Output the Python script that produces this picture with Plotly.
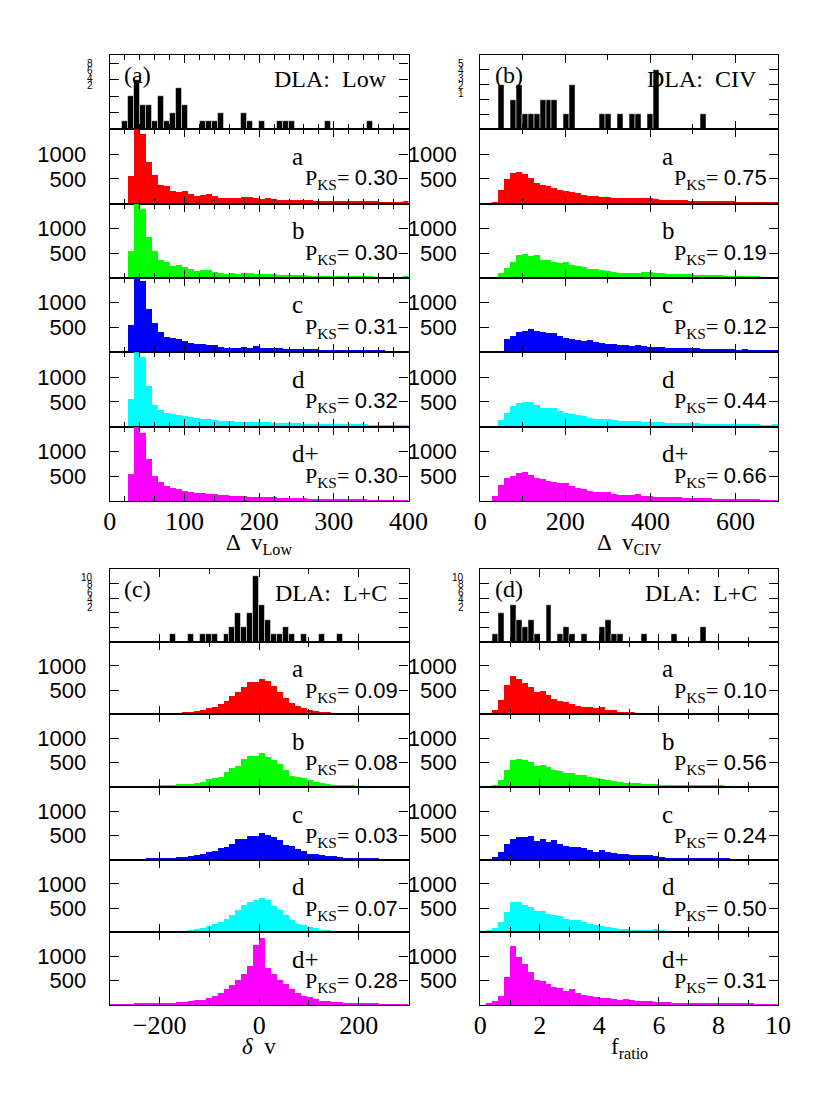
import plotly.graph_objects as go

W, H = 830, 1117
SERIF = 'Liberation Serif'
SANS = 'Liberation Sans'

# ---- observed DLA counts (black histograms) ----
low_data = [0, 0, 1, 4, 6, 3, 3, 1, 4, 1, 2, 5, 3, 0, 0, 1, 1, 1, 2, 0,
            0, 0, 2, 1, 0, 1, 0, 0, 1, 1, 1, 0, 0, 0, 0, 0, 1, 0, 0, 0,
            0, 0, 0, 1, 0, 0, 0, 0, 0, 0]
civ_data = [0, 0, 0, 3, 0, 2, 3, 1, 1, 1, 2, 2, 2, 0, 1, 3, 0, 0, 0, 0,
            1, 1, 0, 1, 0, 1, 1, 0, 1, 4, 0, 0, 0, 0, 0, 0, 0, 1, 0, 0,
            0, 0, 0, 0, 0, 0, 0, 0, 0, 0]
dv_data = [0, 0, 0, 0, 0, 0, 0, 0, 0, 0, 1, 0, 0, 1, 0, 1, 1, 1, 0, 1,
           2, 4, 2, 4, 9, 5, 3, 1, 1, 2, 1, 0, 1, 0, 0, 1, 0, 0, 1, 0,
           0, 0, 0, 0, 0, 0, 0, 0, 0, 0]
fr_data = [0, 0, 1, 4, 0, 5, 3, 2, 3, 1, 0, 5, 0, 1, 2, 1, 0, 1, 0, 0,
           2, 3, 1, 1, 0, 0, 0, 1, 0, 0, 0, 0, 1, 0, 0, 0, 0, 2, 0, 0,
           0, 0, 0, 0, 0, 0, 0, 0, 0, 0]

# ---- model counts, models a, b, c, d, d+ ----
low_a = [0, 0, 0, 560, 1700, 1400, 830, 570, 380, 355, 255, 235, 255, 190, 155, 170, 180, 140, 110, 110,
         100, 115, 120, 120, 100, 90, 110, 90, 75, 75, 70, 65, 60, 60, 55, 55, 50, 50, 50, 45,
         45, 45, 40, 40, 38, 35, 35, 35, 35, 45]
low_b = [0, 0, 0, 560, 1700, 1400, 830, 560, 370, 320, 250, 265, 220, 185, 150, 170, 165, 135, 110, 95,
         100, 95, 100, 105, 90, 85, 80, 85, 70, 75, 70, 65, 60, 55, 55, 50, 50, 45, 45, 45,
         40, 40, 40, 38, 35, 35, 35, 35, 35, 45]
low_c = [0, 0, 0, 555, 1700, 1440, 880, 590, 420, 315, 295, 265, 225, 190, 165, 170, 145, 145, 110, 95,
         90, 90, 110, 95, 120, 90, 85, 85, 80, 75, 70, 65, 70, 60, 60, 55, 55, 50, 50, 45,
         45, 45, 40, 40, 38, 38, 35, 35, 35, 35]
low_d = [0, 0, 0, 545, 1700, 1400, 810, 430, 320, 275, 240, 220, 200, 185, 165, 155, 140, 125, 115, 110,
         100, 95, 90, 85, 80, 80, 80, 75, 70, 65, 60, 60, 55, 55, 50, 50, 45, 45, 45, 40,
         40, 40, 38, 35, 35, 35, 32, 32, 30, 35]
low_dp = [0, 0, 0, 550, 1700, 1380, 860, 515, 390, 310, 275, 240, 205, 185, 170, 160, 150, 140, 130, 120,
          110, 105, 100, 95, 90, 90, 85, 80, 75, 70, 65, 65, 60, 55, 55, 50, 50, 45, 45, 45,
          40, 40, 38, 35, 35, 35, 33, 32, 32, 35]

civ_a = [0, 0, 15, 275, 500, 615, 635, 585, 520, 415, 380, 355, 315, 260, 240, 220, 205, 160, 155, 145,
         135, 125, 115, 115, 100, 110, 115, 100, 110, 80, 75, 70, 65, 65, 60, 55, 55, 50, 50, 45,
         45, 40, 40, 35, 35, 30, 30, 25, 25, 20]
civ_b = [0, 0, 0, 100, 205, 335, 475, 490, 445, 465, 375, 370, 335, 300, 320, 265, 240, 220, 190, 185,
         170, 150, 130, 115, 115, 100, 115, 130, 135, 110, 100, 90, 85, 85, 80, 80, 75, 70, 70, 65,
         60, 55, 50, 45, 45, 40, 40, 35, 35, 35]
civ_c = [0, 0, 0, 20, 260, 335, 405, 440, 465, 440, 405, 385, 385, 335, 295, 265, 245, 225, 245, 210,
         180, 165, 175, 145, 145, 130, 155, 125, 110, 105, 100, 95, 90, 90, 85, 80, 80, 75, 75, 70,
         65, 60, 60, 55, 75, 50, 45, 45, 40, 40]
civ_d = [0, 0, 0, 130, 270, 410, 475, 485, 500, 430, 375, 375, 360, 305, 275, 240, 220, 205, 175, 150,
         145, 140, 120, 115, 105, 105, 115, 90, 85, 85, 80, 75, 75, 70, 65, 60, 60, 55, 55, 50,
         50, 50, 45, 45, 45, 40, 40, 35, 35, 40]
civ_dp = [0, 0, 115, 330, 480, 515, 565, 585, 530, 480, 445, 415, 390, 365, 360, 310, 260, 240, 205, 195,
          190, 180, 150, 130, 130, 130, 140, 105, 100, 95, 90, 90, 85, 80, 75, 75, 70, 65, 60, 55,
          55, 50, 50, 45, 45, 40, 40, 35, 35, 30]

dv_a = [5, 5, 5, 5, 8, 8, 10, 10, 12, 14, 21, 35, 49, 63, 84, 105, 133, 168, 224, 273,
        378, 470, 575, 666, 680, 729, 701, 589, 470, 350, 245, 175, 133, 105, 84, 63, 49, 35, 28, 25,
        21, 28, 18, 14, 12, 10, 8, 6, 5, 5]
dv_b = [3, 3, 3, 5, 5, 8, 10, 12, 15, 21, 35, 49, 49, 56, 70, 105, 153, 188, 209, 300,
        384, 419, 572, 642, 642, 698, 614, 544, 474, 349, 230, 195, 188, 140, 105, 70, 49, 35, 28, 21,
        14, 12, 10, 8, 6, 5, 3, 3, 3, 3]
dv_c = [5, 5, 8, 10, 10, 12, 14, 25, 28, 42, 42, 56, 56, 69, 104, 111, 160, 181, 250, 264,
        333, 417, 417, 486, 486, 542, 507, 472, 403, 299, 285, 215, 181, 125, 125, 90, 69, 69, 56, 42,
        28, 42, 21, 21, 14, 12, 10, 8, 5, 5]
dv_d = [3, 3, 3, 5, 5, 6, 8, 10, 12, 14, 21, 28, 41, 55, 76, 104, 131, 173, 221, 290,
        359, 463, 567, 636, 684, 726, 670, 553, 463, 359, 256, 187, 152, 118, 90, 62, 48, 35, 28, 21,
        14, 12, 10, 8, 6, 5, 4, 3, 3, 3]
dv_dp = [5, 8, 10, 12, 14, 14, 17, 20, 21, 28, 35, 49, 56, 70, 91, 105, 140, 188, 244, 328,
         405, 509, 628, 802, 1235, 1374, 747, 642, 509, 419, 314, 244, 188, 153, 119, 84, 70, 56, 49, 42,
         35, 28, 21, 17, 14, 12, 10, 8, 5, 5]

fr_a = [0, 42, 105, 294, 610, 806, 729, 659, 561, 470, 491, 400, 315, 280, 259, 224, 189, 168, 168, 133,
        168, 98, 98, 63, 63, 49, 42, 35, 35, 28, 28, 21, 21, 21, 21, 18, 18, 18, 5, 5,
        5, 5, 3, 3, 3, 3, 3, 3, 3, 3]
fr_b = [0, 5, 35, 140, 335, 544, 572, 544, 502, 419, 453, 405, 349, 314, 279, 279, 244, 244, 195, 174,
        153, 140, 126, 105, 84, 84, 70, 56, 56, 56, 35, 35, 28, 28, 28, 21, 21, 21, 14, 14,
        14, 12, 10, 8, 8, 6, 5, 5, 3, 3]
fr_c = [0, 10, 56, 160, 319, 417, 472, 458, 486, 382, 424, 368, 403, 333, 285, 264, 264, 250, 194, 160,
        194, 160, 139, 125, 111, 104, 104, 90, 90, 69, 56, 42, 42, 35, 28, 21, 21, 21, 21, 21,
        21, 14, 12, 10, 8, 6, 5, 3, 0, 0]
fr_d = [5, 48, 104, 221, 428, 636, 636, 581, 532, 442, 442, 394, 359, 339, 290, 270, 270, 221, 187, 152,
        138, 118, 104, 83, 69, 62, 62, 48, 48, 76, 48, 41, 41, 35, 35, 28, 28, 21, 21, 21,
        14, 14, 12, 10, 8, 6, 5, 5, 3, 3]
fr_dp = [0, 35, 70, 188, 579, 1221, 977, 837, 684, 509, 488, 419, 370, 335, 279, 314, 244, 209, 174, 160,
         140, 140, 126, 105, 119, 105, 84, 70, 70, 49, 56, 49, 35, 35, 28, 28, 21, 28, 21, 42,
         35, 21, 21, 14, 14, 14, 10, 10, 8, 8]

pks_low = ['0.30', '0.30', '0.31', '0.32', '0.30']
pks_civ = ['0.75', '0.19', '0.12', '0.44', '0.66']
pks_dv = ['0.09', '0.08', '0.03', '0.07', '0.28']
pks_fr = ['0.10', '0.56', '0.24', '0.50', '0.31']

MODELS = ['a', 'b', 'c', 'd', 'd+']
COLORS = ['#ff0000', '#00ff00', '#0000ff', '#00ffff', '#ff00ff']

QUADRANTS = [
    dict(tag='(a)', dla='DLA:  Low', title='Δ  v<sub>Low</sub>', start=0, bw=8, data=low_data,
         models=[low_a, low_b, low_c, low_d, low_dp], pks=pks_low, xrange=[0, 400], dtick=100, minor=20,
         ymax=9, ticks=[2, 4, 6, 8], col=0, group=0),
    dict(tag='(b)', dla='DLA:  CIV', title='Δ  v<sub>CIV</sub>', start=0, bw=14, data=civ_data,
         models=[civ_a, civ_b, civ_c, civ_d, civ_dp], pks=pks_civ, xrange=[0, 700], dtick=200, minor=100,
         ymax=5, ticks=[1, 2, 3, 4, 5], col=1, group=0),
    dict(tag='(c)', dla='DLA:  L+C', title='<i>δ</i>  v', start=-300, bw=12, data=dv_data,
         models=[dv_a, dv_b, dv_c, dv_d, dv_dp], pks=pks_dv, xrange=[-300, 300], dtick=200, minor=100,
         ymax=10, ticks=[2, 4, 6, 8, 10], col=0, group=1),
    dict(tag='(d)', dla='DLA:  L+C', title='f<sub>ratio</sub>', start=0, bw=0.2, data=fr_data,
         models=[fr_a, fr_b, fr_c, fr_d, fr_dp], pks=pks_fr, xrange=[0, 10], dtick=2, minor=1,
         ymax=10, ticks=[2, 4, 6, 8, 10], col=1, group=1),
]

COLS = [(107, 415), (489, 796)]      # pixel extents of the two panel columns
GROUPS = [(55, 501), (569, 1005)]    # pixel extents of the two panel groups


def py(p):
    return 1 - p / H


fig = go.Figure()
layout = {}
notes = []

for q, quad in enumerate(QUADRANTS):
    x0, x1 = COLS[quad['col']]
    g0, g1 = GROUPS[quad['group']]
    step = (g1 - g0) / 6
    centers = [quad['start'] + quad['bw'] * (i + 0.5) for i in range(len(quad['data']))]
    for r in range(6):
        n = q * 6 + r + 1
        top, bottom = g0 + r * step, g0 + (r + 1) * step
        suffix = '' if n == 1 else str(n)
        if r == 0:
            values, color, line = quad['data'], 'black', dict(width=0.5, color='white')
        else:
            values, color, line = quad['models'][r - 1], COLORS[r - 1], dict(width=0)
        fig.add_trace(go.Bar(x=centers, y=values, width=quad['bw'], marker=dict(color=color, line=line),
                             xaxis='x' + suffix, yaxis='y' + suffix, showlegend=False))
        layout['xaxis' + suffix] = dict(
            domain=[x0 / W, x1 / W], range=quad['xrange'], anchor='y' + suffix,
            showline=True, linecolor='black', linewidth=1.3, mirror='allticks',
            ticks='inside', ticklen=8, tickwidth=1.2, tickcolor='black', tick0=0, dtick=quad['dtick'],
            minor=dict(dtick=quad['minor'], tick0=0, ticks='inside', ticklen=5, tickwidth=1, tickcolor='black'),
            showgrid=False, zeroline=False, showticklabels=(r == 5), ticklabelstandoff=-3,
            tickfont=dict(family=SERIF, size=26, color='black'))
        ydict = dict(domain=[py(bottom), py(top)], anchor='x' + suffix,
                     showline=True, linecolor='black', linewidth=1.3, mirror='allticks',
                     ticks='inside', ticklen=9, tickwidth=1.2, tickcolor='black',
                     showgrid=False, zeroline=False)
        if r == 0:
            ydict.update(range=[0, quad['ymax']], tickvals=quad['ticks'], showticklabels=False)
        else:
            ydict.update(range=[0, 1500], tickvals=[500, 1000], ticklabelstandoff=18,
                         tickfont=dict(family=SANS, size=22, color='black'))
        layout['yaxis' + suffix] = ydict

        if r == 0:
            notes.append(dict(text=quad['tag'], x=(x0 + 13) / W, y=py(top + 20), xanchor='left',
                              yanchor='middle', font=dict(family=SERIF, size=24)))
            notes.append(dict(text=quad['dla'], x=(x1 - 20) / W, y=py(top + 24), xanchor='right',
                              yanchor='middle', font=dict(family=SERIF, size=24)))
            # crowded tick labels of the count axis, stacked as in the original
            for i, t in enumerate(reversed(quad['ticks'])):
                notes.append(dict(text=str(t), x=(x0 - 15) / W, y=py(top + 8.5 + i * 7.4),
                                  xanchor='right', yanchor='middle', font=dict(family=SANS, size=10)))
        else:
            notes.append(dict(text=MODELS[r - 1], x=(x1 - 122) / W, y=py(top + 27), xanchor='left',
                              yanchor='middle', font=dict(family=SERIF, size=25)))
            notes.append(dict(text='P<sub>KS</sub>= <span style="font-family:%s">%s</span>'
                                   % (SANS, quad['pks'][r - 1]),
                              x=(x1 - 9) / W, y=py(top + 50), xanchor='right', yanchor='middle',
                              font=dict(family=SERIF, size=22)))
    notes.append(dict(text=quad['title'], x=(x0 + x1) / 2 / W, y=py(g1 + 27), xanchor='center',
                      yanchor='top', font=dict(family=SERIF, size=23)))

for note in notes:
    note.update(xref='paper', yref='paper', showarrow=False)
    note['font'].setdefault('color', 'black')

fig.update_layout(width=W, height=H, margin=dict(l=0, r=0, t=0, b=0),
                  plot_bgcolor='white', paper_bgcolor='white', bargap=0,
                  annotations=notes, **layout)
# the page's default body margin would shift the whole figure by 8px
fig.write_html('out.html', config={'displayModeBar': False},
               post_script="document.body.style.margin = '0';")
